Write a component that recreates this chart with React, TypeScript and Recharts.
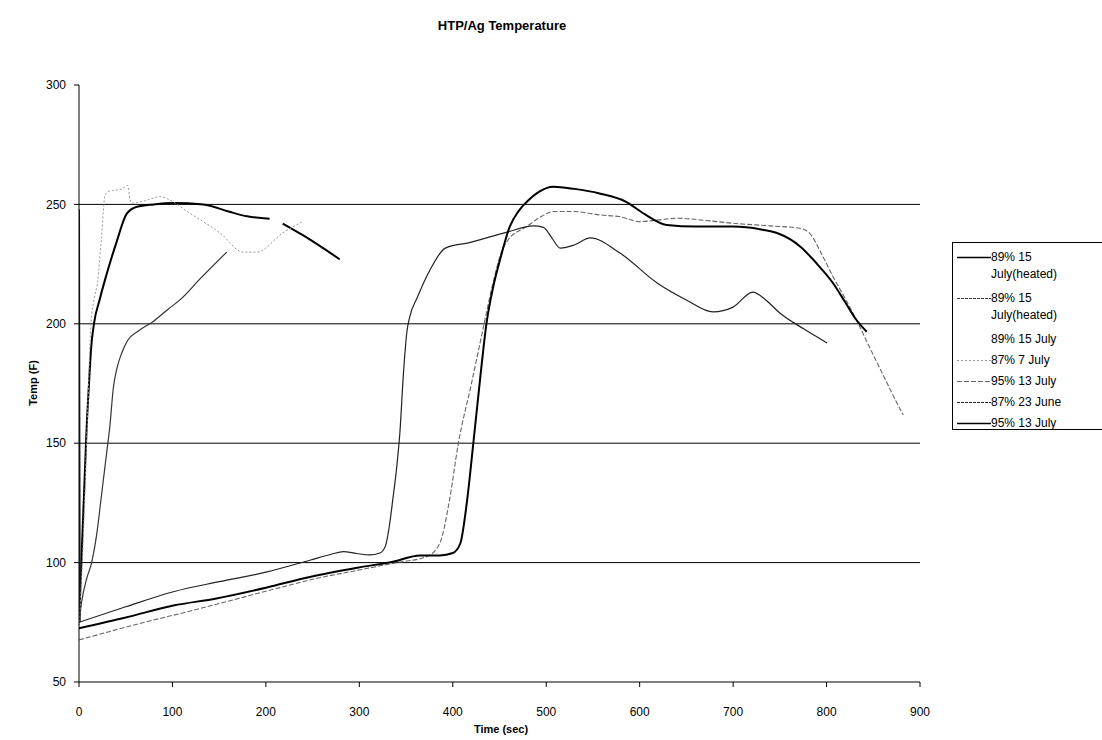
import { LineChart, Line, XAxis, YAxis, ReferenceLine } from "recharts";

// 89% 15 July(heated) - thick early run (gap before last piece)
const heatedATime = [0, 2, 4, 6, 8, 10.7, 13, 16, 22, 29, 40, 51, 62, 80, 101, 133, 160, 180, 204, 211, 218, 240, 260, 279];
const heatedATemp = [75, 95, 115, 135, 155, 175, 190, 200, 210, 220, 234, 246, 249, 250, 250.6, 250, 247, 245, 244, null, 242, 237, 232, 227];

// 89% 15 July(heated) - thin early run
const heatedBTime = [0, 3, 8, 13.5, 19, 24, 29.6, 33, 36.7, 41, 46, 52, 63.5, 79.5, 95, 108, 130, 158];
const heatedBTemp = [75, 84, 93, 100, 112, 128, 146, 157, 173, 182, 188, 193, 197, 201, 206, 210, 219, 230];

// 89% 15 July
const july15Time = [0, 0.4, 0.8];
const july15Temp = [248, 165, 75];

// 87% 7 July
const july7Time = [0, 3, 6, 9.3, 12.8, 16, 20, 24, 28, 32, 40, 46, 52, 54.6, 56.4, 70, 86.7, 101, 116, 126, 151, 176, 190, 218, 240];
const july7Temp = [72, 95, 125, 164, 200, 210, 218, 236, 254, 255.5, 256, 256.5, 258, 252, 250.5, 251.5, 253.2, 251, 247, 244.5, 238, 230, 230, 238, 243];

// 95% 13 July (dashed)
const july13aTime = [0, 60, 122, 200, 250, 301, 340, 372, 386, 396, 406, 420, 433, 443, 452, 459, 479, 495, 507.6, 529, 557.6, 579, 600, 620, 640, 670, 700, 740, 771.6, 782, 795, 807, 820, 832, 845, 860, 870, 882];
const july13aTemp = [67.6, 74, 80, 88, 93, 97, 100, 102.5, 108, 125, 150, 175, 199, 217, 230, 235, 240.7, 245, 247, 247, 245.6, 244.8, 242.8, 243.5, 244.2, 243.3, 242.1, 241, 240, 237.9, 229, 219.7, 210.5, 201.6, 191, 179, 171, 161.8];

// 87% 23 June
const june23Time = [0, 50, 101, 150, 200, 247, 270, 283, 297, 311, 322, 328, 332, 336, 340, 343.5, 347, 351, 354, 362, 375.6, 392, 418, 458, 486, 497, 506, 515, 530, 547, 579, 619, 650, 678.5, 700, 721, 735, 750, 775, 800.5];
const june23Temp = [75, 81.5, 87.8, 92, 96, 101, 103.5, 104.6, 103.8, 103.2, 104, 107, 115, 127, 140, 155, 178, 197, 203, 211, 222.5, 231.7, 234, 238.4, 241, 240.4, 236, 231.7, 233, 236, 229.6, 217, 210, 205, 207, 213.3, 210, 204.5, 198, 192];

// 95% 13 July (solid)
const july13bTime = [0, 50, 101, 147, 200, 247, 300, 336, 365, 386, 400, 408, 415, 422, 429, 436, 443, 450.5, 461, 470, 479, 493, 507.6, 530, 557, 586, 605, 629, 660, 700, 730, 747, 772, 790, 807, 820, 832, 843];
const july13bTemp = [72.5, 77, 82, 85, 89.5, 94, 98, 100.4, 103, 103, 104, 108, 125, 150, 176, 200, 215, 226.7, 240.7, 247, 251, 255.5, 257.4, 256.5, 254.6, 251, 246, 241.4, 240.7, 240.7, 239.5, 238, 232.3, 225, 217, 209, 201.6, 196.7];

const xTicks = [0, 100, 200, 300, 400, 500, 600, 700, 800, 900];
const yTicks = [50, 100, 150, 200, 250, 300];
const gridValues = [100, 150, 200, 250];

const FONT = "'Liberation Sans', Arial, sans-serif";

function toPoints(time: number[], temp: (number | null)[]) {
  return time.map((x, i) => ({ x, y: temp[i] }));
}

const series = [
  { name: "89% 15 July(heated)", data: toPoints(heatedATime, heatedATemp), stroke: "#000", width: 2, dash: undefined, type: "monotone", legend: true },
  { name: "89% 15 July(heated)", data: toPoints(heatedBTime, heatedBTemp), stroke: "#333", width: 1.2, dash: undefined, type: "monotone", legend: true, legendDash: "3 1" },
  { name: "89% 15 July", data: toPoints(july15Time, july15Temp), stroke: "#222", width: 2, dash: undefined, type: "linear", legend: false },
  { name: "87% 7 July", data: toPoints(july7Time, july7Temp), stroke: "#999", width: 1, dash: "2 2", type: "monotone", legend: true },
  { name: "95% 13 July", data: toPoints(july13aTime, july13aTemp), stroke: "#666", width: 1.1, dash: "5 2", type: "monotone", legend: true },
  { name: "87% 23 June", data: toPoints(june23Time, june23Temp), stroke: "#222", width: 1.2, dash: undefined, type: "monotone", legend: true, legendDash: "3 1" },
  { name: "95% 13 July", data: toPoints(july13bTime, july13bTemp), stroke: "#000", width: 2, dash: undefined, type: "monotone", legend: true },
];

function LegendBox() {
  return (
    <div
      style={{
        position: "absolute",
        left: 952,
        top: 242,
        width: 170,
        height: 188,
        border: "1px solid #000",
        boxSizing: "border-box",
        fontFamily: FONT,
        fontSize: 12,
        color: "#000",
        paddingTop: 6,
      }}
    >
      {series.map((s, i) => (
        <div key={i} style={{ display: "flex", alignItems: "flex-start", marginBottom: i < 2 ? 7 : 4, lineHeight: "17px" }}>
          <svg width={38} height={17} style={{ flex: "none" }}>
            {s.legend ? (
              <line x1={4} x2={38} y1={8.5} y2={8.5} stroke={s.stroke} strokeWidth={Math.min(s.width, 1.5)} strokeDasharray={s.legendDash ?? s.dash} />
            ) : null}
          </svg>
          <span style={{ width: 80 }}>{s.name}</span>
        </div>
      ))}
    </div>
  );
}

export default function App() {
  return (
    <div style={{ position: "absolute", left: 0, top: 0, width: 1102, height: 740, background: "#fff", fontFamily: FONT }}>
      <div style={{ position: "absolute", left: 0, width: 1004, top: 18, textAlign: "center", fontWeight: 700, fontSize: 13 }}>
        HTP/Ag Temperature
      </div>
      <div
        style={{
          position: "absolute",
          left: 33,
          top: 383,
          transform: "translate(-50%, -50%) rotate(-90deg)",
          fontWeight: 700,
          fontSize: 11,
          whiteSpace: "nowrap",
        }}
      >
        Temp (F)
      </div>
      <div style={{ position: "absolute", left: 0, width: 1002, top: 723, textAlign: "center", fontWeight: 700, fontSize: 11 }}>
        Time (sec)
      </div>
      <div style={{ position: "absolute", left: 0, top: 0 }}>
        <LineChart width={1102} height={740} margin={{ top: 85, right: 182, bottom: 0, left: 0 }}>
          <XAxis
            type="number"
            dataKey="x"
            domain={[0, 900]}
            ticks={xTicks}
            height={58}
            stroke="#000"
            tickSize={5}
            tickMargin={20}
            tick={{ fill: "#000", fontSize: 12, fontFamily: FONT }}
            allowDataOverflow
          />
          <YAxis
            type="number"
            domain={[50, 300]}
            ticks={yTicks}
            width={79}
            stroke="#000"
            tickSize={5}
            tickMargin={8}
            tick={{ fill: "#000", fontSize: 12, fontFamily: FONT }}
            allowDataOverflow
          />
          {gridValues.map((v) => (
            <ReferenceLine key={v} y={v} stroke="#000" strokeWidth={1} ifOverflow="visible" />
          ))}
          {series.map((s, i) => (
            <Line
              key={i}
              data={s.data}
              dataKey="y"
              name={s.name}
              type={s.type as "monotone" | "linear"}
              stroke={s.stroke}
              strokeWidth={s.width}
              strokeDasharray={s.dash}
              dot={false}
              activeDot={false}
              connectNulls={false}
              isAnimationActive={false}
            />
          ))}
        </LineChart>
      </div>
      <LegendBox />
    </div>
  );
}
